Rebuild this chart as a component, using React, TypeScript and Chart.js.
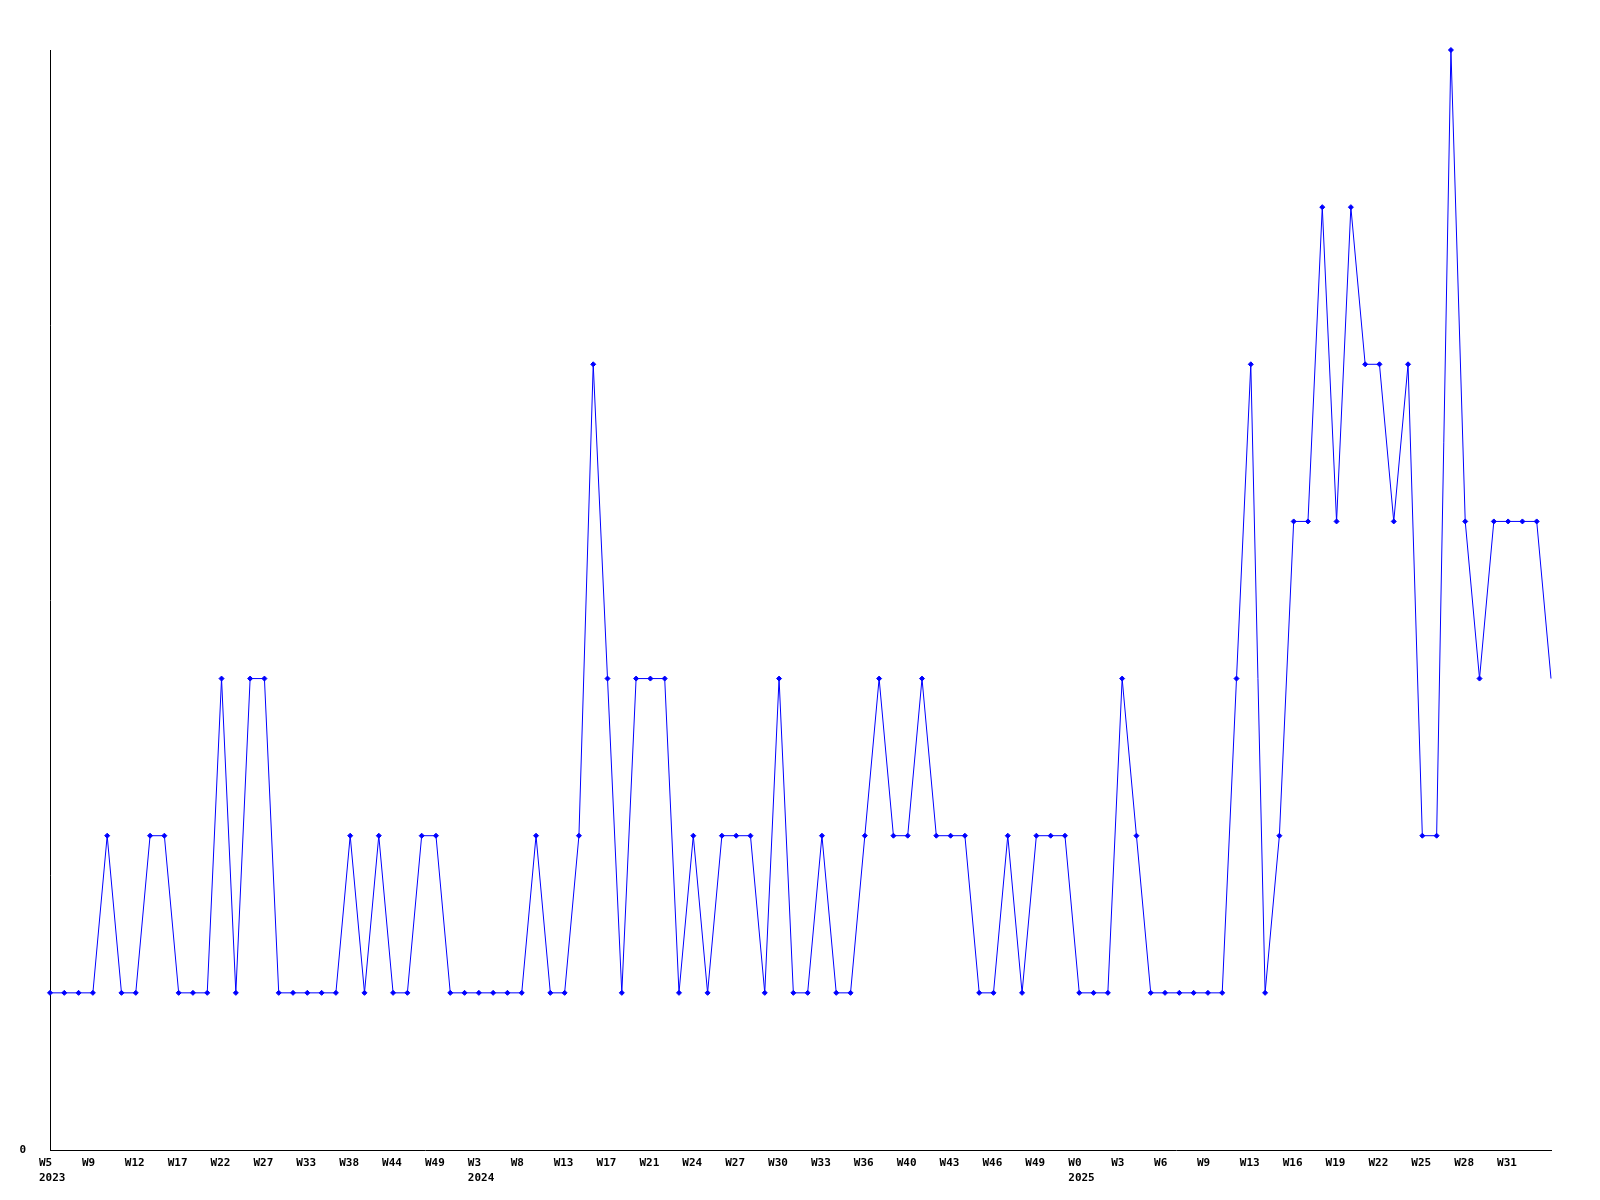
import React, { useEffect, useRef } from "react";
import { Chart, registerables } from "chart.js";

Chart.register(...registerables);

const values: number[] = [
  1, 1, 1, 1, 2, 1, 1, 2, 2, 1,
  1, 1, 3, 1, 3, 3, 1, 1, 1, 1,
  1, 2, 1, 2, 1, 1, 2, 2, 1, 1,
  1, 1, 1, 1, 2, 1, 1, 2, 5, 3,
  1, 3, 3, 3, 1, 2, 1, 2, 2, 2,
  1, 3, 1, 1, 2, 1, 1, 2, 3, 2,
  2, 3, 2, 2, 2, 1, 1, 2, 1, 2,
  2, 2, 1, 1, 1, 3, 2, 1, 1, 1,
  1, 1, 1, 3, 5, 1, 2, 4, 4, 6,
  4, 6, 5, 5, 4, 5, 2, 2, 7, 4,
  3, 4, 4, 4, 4, 3,
];

const tickLabels: string[] = [
  "W5", "W9", "W12", "W17", "W22", "W27", "W33", "W38", "W44", "W49",
  "W3", "W8", "W13", "W17", "W21", "W24", "W27", "W30", "W33", "W36",
  "W40", "W43", "W46", "W49", "W0", "W3", "W6", "W9", "W13", "W16",
  "W19", "W22", "W25", "W28", "W31",
];

const tickYears: Record<number, string> = { 0: "2023", 10: "2024", 24: "2025" };

const TICK_EVERY = 3;

const categories: string[] = values.map((_, i) =>
  i % TICK_EVERY === 0 && tickLabels[i / TICK_EVERY] !== undefined ? tickLabels[i / TICK_EVERY] : ""
);

const FONT = { family: "'DejaVu Sans Mono', monospace", size: 11, weight: "bold" as const, lineHeight: 1.36 };

export default function App() {
  const ref = useRef<HTMLCanvasElement | null>(null);

  useEffect(() => {
    if (!ref.current) return;
    const chart = new Chart(ref.current, {
      type: "line",
      data: {
        labels: categories,
        datasets: [
          {
            data: values,
            borderColor: "#0000ff",
            backgroundColor: "#0000ff",
            borderWidth: 1,
            pointStyle: "rectRot",
            pointRadius: values.map((_, i) => (i === values.length - 1 ? 0 : 2.5)),
            pointBorderWidth: 1,
            tension: 0,
            fill: false,
            clip: false,
          } as any,
        ],
      },
      options: {
        animation: false,
        responsive: true,
        maintainAspectRatio: false,
        layout: { padding: { top: 50, right: 49, left: 0, bottom: 0 } },
        plugins: { legend: { display: false }, tooltip: { enabled: false } },
        scales: {
          x: {
            type: "category",
            offset: false,
            grid: { display: false, drawTicks: false },
            border: { display: true, color: "#000000", width: 1 },
            afterFit: (s: any) => {
              s.height = 50;
            },
            ticks: {
              autoSkip: false,
              maxRotation: 0,
              minRotation: 0,
              align: "start",
              labelOffset: -11,
              padding: 6,
              color: "#000000",
              font: FONT,
              callback: (_v: any, i: number) => {
                if (i % TICK_EVERY !== 0) return null;
                const k = i / TICK_EVERY;
                const lab = tickLabels[k];
                if (lab === undefined) return null;
                return tickYears[k] ? [lab, tickYears[k]] : lab;
              },
            },
          },
          y: {
            min: 0,
            max: 7,
            grid: { display: false, drawTicks: false },
            border: { display: true, color: "#000000", width: 1 },
            afterFit: (s: any) => {
              s.width = 50;
            },
            ticks: {
              stepSize: 1,
              padding: 24,
              color: "#000000",
              font: FONT,
              callback: (v: any) => (Number(v) === 0 ? "0" : null),
            },
          },
        },
      },
    });
    return () => chart.destroy();
  }, []);

  return (
    <div style={{ position: "absolute", left: 0, top: 0, width: 1600, height: 1200, background: "#ffffff" }}>
      <canvas ref={ref} />
    </div>
  );
}
